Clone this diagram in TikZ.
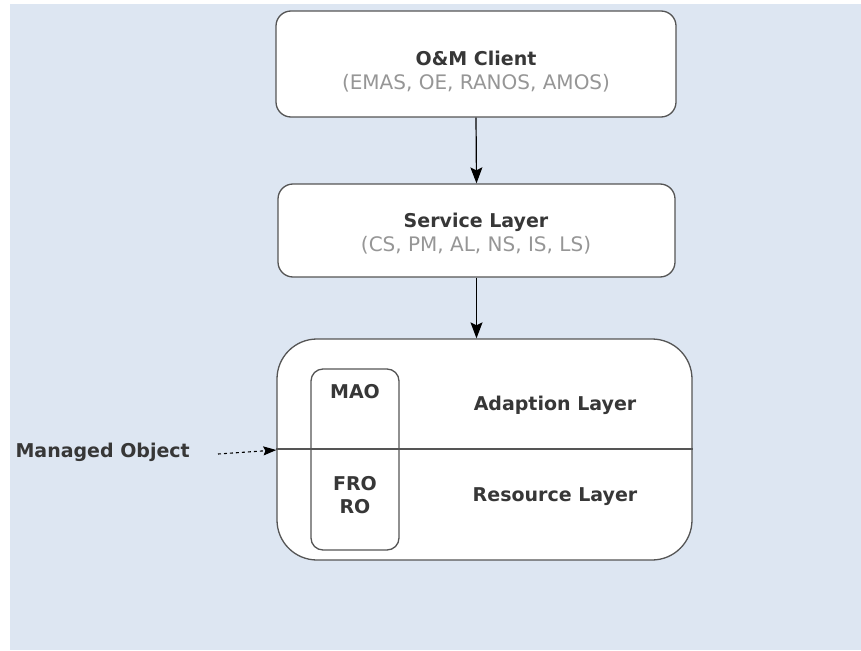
\documentclass[tikz,border=0pt]{standalone}
\usepackage{fontspec}
\setmainfont{DejaVu Sans}
\usetikzlibrary{arrows.meta,calc}
\definecolor{paper}{RGB}{221,230,242}
\definecolor{edge}{RGB}{85,85,85}
\definecolor{subtext}{RGB}{150,150,150}
\definecolor{label}{RGB}{55,55,55}
\tikzset{
  layerbox/.style={draw=edge, line width=1.3pt, fill=white, rounded corners=15pt, inner sep=0pt},
  title/.style={font=\fontsize{19}{23}\selectfont\bfseries, text=label},
  subtitle/.style={font=\fontsize{20}{24}\selectfont, text=subtext},
  flow/.style={-{Stealth[length=16pt,width=12pt,inset=3pt]}, line width=1.2pt, black},
}
\begin{document}
\begin{tikzpicture}[x=1pt,y=-1pt]
  \useasboundingbox (0,0) rectangle (861,650);
  \fill[paper] (10,4) rectangle (861,650);

  % client layer
  \node[layerbox, minimum width=400pt, minimum height=106pt] (client) at (476,64) {};
  \node[title] (clientT) at (476,58) {O\&M Client};
  \node[subtitle] (clientS) at (476,83) {(EMAS, OE, RANOS, AMOS)};

  % service layer
  \node[layerbox, minimum width=397pt, minimum height=93pt] (service) at (476.5,230.5) {};
  \node[title] (serviceT) at (476,222) {Service Layer};
  \node[subtitle] (serviceS) at (476,245) {(CS, PM, AL, NS, IS, LS)};

  % adaption / resource layers
  \node[layerbox, rounded corners=40pt, minimum width=415pt, minimum height=221pt] (lower) at (484.5,449.5) {};
  \draw[edge, line width=1.3pt] (lower.west |- 0,449) -- (lower.east |- 0,449);
  \node[draw=edge, line width=1.3pt, rounded corners=12pt, minimum width=88pt, minimum height=181pt, inner sep=0pt] (mo) at (355,459.5) {};
  \node[title] (mao) at (355,392) {MAO};
  \node[title, align=center] (fro) at (355,495) {FRO\\RO};
  \node[title] (adapt) at (555,405) {Adaption Layer};
  \node[title] (res) at (555,497) {Resource Layer};

  % connectors
  \draw[flow] (client.south) -- (service.north);
  \draw[flow] (service.south) -- (service.south |- lower.north);

  \node[title, anchor=west] (managed) at (12,452) {Managed Object};
  \coordinate (moTail) at (218,454);
  \coordinate (moHead) at (lower.west |- 0,450);
  \draw[dashed, line width=1.1pt, -{Stealth[length=13pt,width=9pt,inset=2pt]}] (moTail) -- (moHead);
\end{tikzpicture}
\end{document}
